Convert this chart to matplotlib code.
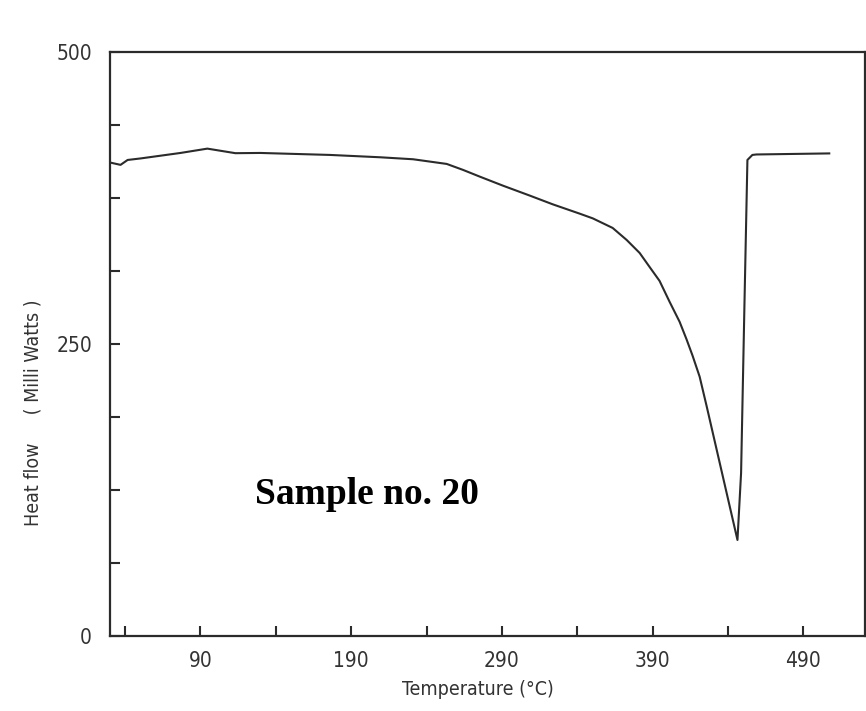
import matplotlib
matplotlib.use("Agg")
import matplotlib.pyplot as plt
from matplotlib.ticker import FixedLocator, MultipleLocator

# DSC trace
temperature = [30.4, 37.0, 41.7, 50.3, 76.8, 94.6, 113.2, 129.7, 176.0, 209.2,
               231.1, 253.4, 264.2, 275.4, 290.7, 308.5, 323.8, 341.7, 350.3,
               363.5, 372.8, 381.4, 388.0, 394.6, 401.3, 407.9, 412.5,
               416.5, 421.2, 425.8, 446.3, 448.7, 450.9, 452.9, 456.2, 458.9,
               507.2]
heat_flow = [405.2, 403.3, 407.5, 408.8, 413.5, 417.2, 413.3, 413.5, 411.8, 409.8,
             408.1, 404.1, 399.0, 393.2, 385.5, 377.0, 369.5, 361.5, 357.5,
             349.3, 339.0, 327.9, 315.9, 304.0, 286.0, 269.0, 254.0,
             240.0, 222.0, 197.0, 82.2, 139.6, 281.7, 407.5, 411.8, 412.2,
             413.1]

x_labels = [90, 190, 290, 390, 490]
x_minor = [40, 140, 240, 340, 440]
y_labels = [0, 250, 500]

plot_font = ["DejaVu Sans"]
ink = "#2b2b2b"

fig = plt.figure(figsize=(8.66, 7.11), dpi=100)
ax = fig.add_axes([0.127, 0.1055, 0.872, 0.8215])

ax.plot(temperature, heat_flow, color=ink, lw=1.5)

ax.set_xlim(30, 531)
ax.set_ylim(0, 500)

ax.xaxis.set_major_locator(FixedLocator(x_labels))
ax.xaxis.set_minor_locator(FixedLocator(x_minor))
ax.yaxis.set_major_locator(FixedLocator(y_labels))
ax.yaxis.set_minor_locator(MultipleLocator(62.5))

ax.tick_params(which="both", direction="in", length=7, width=1.5, color=ink,
               top=False, right=False)
ax.tick_params(axis="x", which="major", pad=11)
ax.tick_params(axis="y", which="major", pad=13)
tick_style = dict(family=plot_font, fontstretch="condensed", fontsize=15, color="#333333")
label_style = dict(family=plot_font, fontstretch="condensed", fontsize=14, color="#333333")
ax.set_xticklabels([str(v) for v in x_labels], **tick_style)
ax.set_yticklabels([str(v) for v in y_labels], **tick_style)

for s in ax.spines.values():
    s.set_color(ink)
    s.set_linewidth(1.6)

fig.text(0.552, 0.030, "Temperature (°C)", ha="center", va="center", **label_style)
fig.text(0.038, 0.419, "Heat flow     ( Milli Watts )", ha="center", va="center",
         rotation=90, **label_style)

ax.text(0.34, 0.242, "Sample no. 20", transform=ax.transAxes, family="Liberation Serif",
        fontweight="bold", fontsize=27, ha="center", va="center", color="black")

fig.savefig("out.png", dpi=100)
